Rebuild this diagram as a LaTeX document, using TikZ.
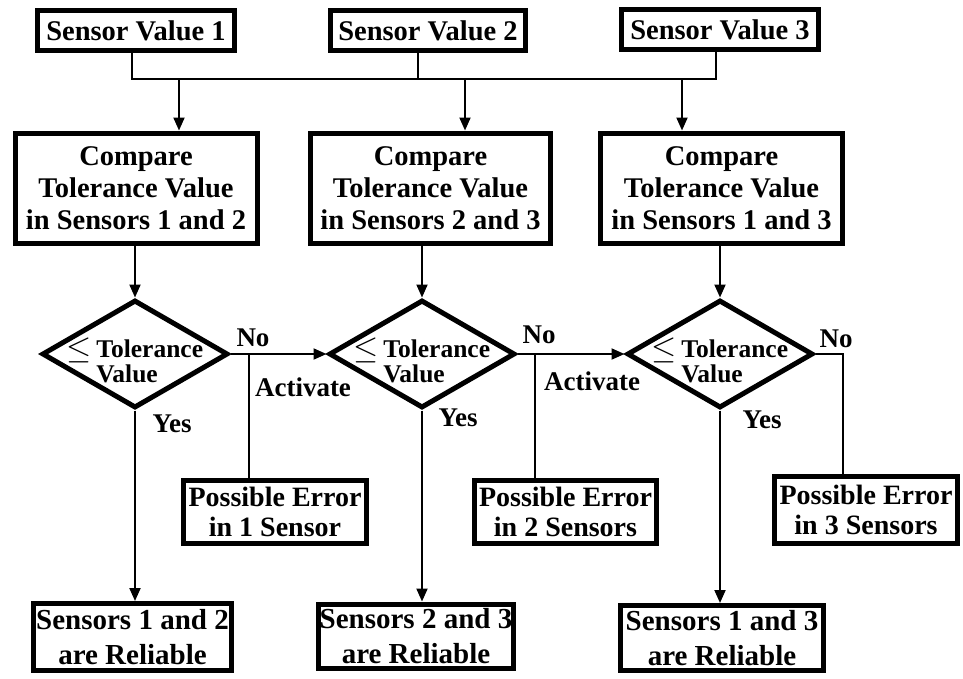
\documentclass[tikz,border=0pt]{standalone}
\usepackage{fontspec}
\setmainfont{Liberation Serif}
\usetikzlibrary{shapes.geometric,arrows.meta}
\newcommand{\tolsign}{\raisebox{-1pt}{\scalebox{1.3}{$\le$}}}
\begin{document}
\begin{tikzpicture}[x=1pt,y=-1pt,
  box/.style={draw, line width=5pt, inner sep=0pt, align=center,
    font=\bfseries\fontsize{28.5}{32}\selectfont},
  decision/.style={draw, diamond, line width=5pt, inner sep=0pt,
    minimum width=186pt, minimum height=108pt},
  dtext/.style={inner sep=0pt, align=left, yshift=-9pt,
    font=\bfseries\fontsize{25.5}{25}\selectfont},
  conn/.style={line width=2pt},
  arr/.style={line width=2pt, -{Triangle[length=13pt,width=11pt]}},
  lbl/.style={inner sep=0pt, font=\bfseries\fontsize{27}{30}\selectfont}]

\useasboundingbox (0,0) rectangle (963,678);

% sensor inputs
\node[box, minimum width=197pt, minimum height=40pt] (SV1) at (136,30.5) {Sensor Value 1};
\node[box, minimum width=195pt, minimum height=40pt] (SV2) at (428,30.5) {Sensor Value 2};
\node[box, minimum width=197pt, minimum height=40pt] (SV3) at (720,29.5) {Sensor Value 3};

% comparison blocks
\node[box, minimum width=242pt, minimum height=110pt] (C1) at (136,188)
  {Compare\\Tolerance Value\\in Sensors 1 and 2};
\node[box, minimum width=240pt, minimum height=110pt] (C2) at (430.5,188)
  {Compare\\Tolerance Value\\in Sensors 2 and 3};
\node[box, minimum width=242pt, minimum height=110pt] (C3) at (721.5,188)
  {Compare\\Tolerance Value\\in Sensors 1 and 3};

% tolerance decisions
\node[decision, label={[dtext]center:{\tolsign\,Tolerance\\\phantom{\tolsign\,}Value}}] (D1) at (135,354) {};
\node[decision, label={[dtext]center:{\tolsign\,Tolerance\\\phantom{\tolsign\,}Value}}] (D2) at (422,354) {};
\node[decision, label={[dtext]center:{\tolsign\,Tolerance\\\phantom{\tolsign\,}Value}}] (D3) at (720,354) {};

% error outcomes
\node[box, minimum width=183pt, minimum height=63pt, font=\bfseries\fontsize{28}{30}\selectfont] (PE1) at (275,512)
  {Possible Error\\in 1 Sensor};
\node[box, minimum width=182pt, minimum height=63pt, font=\bfseries\fontsize{28}{30}\selectfont] (PE2) at (565.5,512)
  {Possible Error\\in 2 Sensors};
\node[box, minimum width=183pt, minimum height=67pt, font=\bfseries\fontsize{28}{30}\selectfont] (PE3) at (866,510)
  {Possible Error\\in 3 Sensors};

% reliable outcomes
\node[box, minimum width=198pt, minimum height=67pt, font=\bfseries\fontsize{29}{35}\selectfont] (B1) at (132.5,637)
  {Sensors 1 and 2\\are Reliable};
\node[box, minimum width=195pt, minimum height=64pt, font=\bfseries\fontsize{29}{35}\selectfont] (B2) at (416,636)
  {Sensors 2 and 3\\are Reliable};
\node[box, minimum width=203pt, minimum height=65pt, font=\bfseries\fontsize{29}{35}\selectfont] (B3) at (722,638)
  {Sensors 1 and 3\\are Reliable};

% input bus
\coordinate (b1) at (132,79);
\coordinate (b2) at (418,79);
\coordinate (b3) at (716,79);
\coordinate (a1) at (179,79);
\coordinate (a2) at (465,79);
\coordinate (a3) at (682,79);
\draw[conn] (b1 |- SV1.south) -- (b1) -- (b3) -- (b3 |- SV3.south);
\draw[conn] (b2 |- SV2.south) -- (b2);
\draw[arr] (a1) -- (a1 |- C1.north);
\draw[arr] (a2) -- (a2 |- C2.north);
\draw[arr] (a3) -- (a3 |- C3.north);

% compare -> decide
\draw[arr] (C1.south -| D1.north) -- (D1.north);
\draw[arr] (C2.south -| D2.north) -- (D2.north);
\draw[arr] (C3.south -| D3.north) -- (D3.north);

% yes branches
\draw[arr] (D1.south) -- (D1.south |- B1.north);
\draw[arr] (D2.south) -- (D2.south |- B2.north);
\draw[arr] (D3.south) -- (D3.south |- B3.north);

% no branches
\coordinate (n1) at (249,354);
\coordinate (n2) at (535,354);
\coordinate (n3) at (843,354);
\draw[arr] (D1.east) -- (D2.west);
\draw[arr] (D2.east) -- (D3.west);
\draw[conn] (n1) -- (n1 |- PE1.north);
\draw[conn] (n2) -- (n2 |- PE2.north);
\draw[conn] (D3.east) -- (n3) -- (n3 |- PE3.north);

% branch labels
\node[lbl] (no1) at (253,338) {No};
\node[lbl] (no2) at (539,335) {No};
\node[lbl] (no3) at (836,339) {No};
\node[lbl] (act1) at (303,387) {Activate};
\node[lbl] (act2) at (592,381) {Activate};
\node[lbl] (yes1) at (172,424) {Yes};
\node[lbl] (yes2) at (458,418) {Yes};
\node[lbl] (yes3) at (762,420) {Yes};

\end{tikzpicture}
\end{document}
